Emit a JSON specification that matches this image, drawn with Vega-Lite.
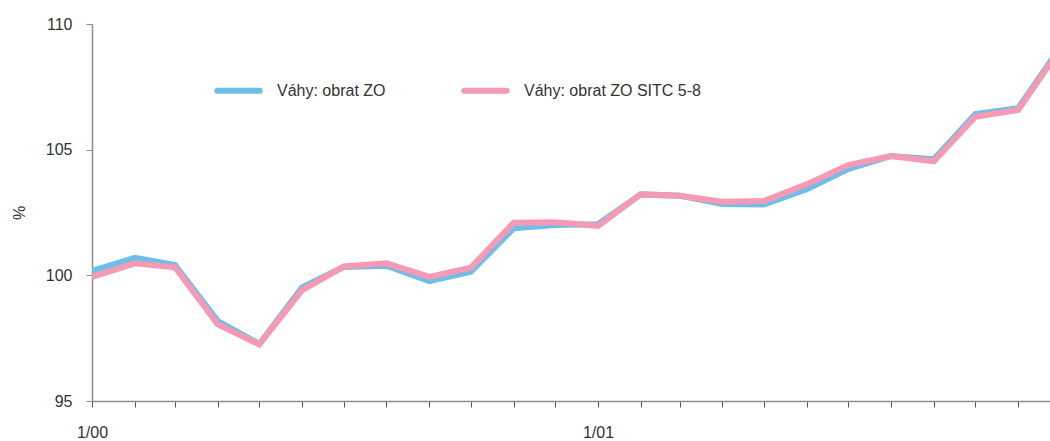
{
  "$schema": "https://vega.github.io/schema/vega-lite/v6.json",
  "width": 958,
  "height": 377,
  "autosize": {"type": "none"},
  "padding": {"left": 92, "top": 24, "right": 0, "bottom": 40},
  "background": "white",
  "config": {
    "view": {"stroke": null},
    "font": "Liberation Sans"
  },
  "data": {
    "values": [
      {"date": "2000-01-01", "series": "Váhy: obrat ZO", "value": 100.18},
      {"date": "2000-02-01", "series": "Váhy: obrat ZO", "value": 100.70},
      {"date": "2000-03-01", "series": "Váhy: obrat ZO", "value": 100.41},
      {"date": "2000-04-01", "series": "Váhy: obrat ZO", "value": 98.18},
      {"date": "2000-05-01", "series": "Váhy: obrat ZO", "value": 97.27},
      {"date": "2000-06-01", "series": "Váhy: obrat ZO", "value": 99.52},
      {"date": "2000-07-01", "series": "Váhy: obrat ZO", "value": 100.33},
      {"date": "2000-08-01", "series": "Váhy: obrat ZO", "value": 100.38},
      {"date": "2000-09-01", "series": "Váhy: obrat ZO", "value": 99.77},
      {"date": "2000-10-01", "series": "Váhy: obrat ZO", "value": 100.14},
      {"date": "2000-11-01", "series": "Váhy: obrat ZO", "value": 101.87},
      {"date": "2000-12-01", "series": "Váhy: obrat ZO", "value": 102.00},
      {"date": "2001-01-01", "series": "Váhy: obrat ZO", "value": 102.03},
      {"date": "2001-02-01", "series": "Váhy: obrat ZO", "value": 103.22},
      {"date": "2001-03-01", "series": "Váhy: obrat ZO", "value": 103.17},
      {"date": "2001-04-01", "series": "Váhy: obrat ZO", "value": 102.84},
      {"date": "2001-05-01", "series": "Váhy: obrat ZO", "value": 102.82},
      {"date": "2001-06-01", "series": "Váhy: obrat ZO", "value": 103.43},
      {"date": "2001-07-01", "series": "Váhy: obrat ZO", "value": 104.23},
      {"date": "2001-08-01", "series": "Váhy: obrat ZO", "value": 104.75},
      {"date": "2001-09-01", "series": "Váhy: obrat ZO", "value": 104.62},
      {"date": "2001-10-01", "series": "Váhy: obrat ZO", "value": 106.42},
      {"date": "2001-11-01", "series": "Váhy: obrat ZO", "value": 106.65},
      {"date": "2001-12-01", "series": "Váhy: obrat ZO", "value": 109.05},
      {"date": "2000-01-01", "series": "Váhy: obrat ZO SITC 5-8", "value": 99.94},
      {"date": "2000-02-01", "series": "Váhy: obrat ZO SITC 5-8", "value": 100.48},
      {"date": "2000-03-01", "series": "Váhy: obrat ZO SITC 5-8", "value": 100.32},
      {"date": "2000-04-01", "series": "Váhy: obrat ZO SITC 5-8", "value": 98.05},
      {"date": "2000-05-01", "series": "Váhy: obrat ZO SITC 5-8", "value": 97.25},
      {"date": "2000-06-01", "series": "Váhy: obrat ZO SITC 5-8", "value": 99.41},
      {"date": "2000-07-01", "series": "Váhy: obrat ZO SITC 5-8", "value": 100.35},
      {"date": "2000-08-01", "series": "Váhy: obrat ZO SITC 5-8", "value": 100.48},
      {"date": "2000-09-01", "series": "Váhy: obrat ZO SITC 5-8", "value": 99.94},
      {"date": "2000-10-01", "series": "Váhy: obrat ZO SITC 5-8", "value": 100.30},
      {"date": "2000-11-01", "series": "Váhy: obrat ZO SITC 5-8", "value": 102.09},
      {"date": "2000-12-01", "series": "Váhy: obrat ZO SITC 5-8", "value": 102.11},
      {"date": "2001-01-01", "series": "Váhy: obrat ZO SITC 5-8", "value": 101.97},
      {"date": "2001-02-01", "series": "Váhy: obrat ZO SITC 5-8", "value": 103.22},
      {"date": "2001-03-01", "series": "Váhy: obrat ZO SITC 5-8", "value": 103.17},
      {"date": "2001-04-01", "series": "Váhy: obrat ZO SITC 5-8", "value": 102.93},
      {"date": "2001-05-01", "series": "Váhy: obrat ZO SITC 5-8", "value": 102.96},
      {"date": "2001-06-01", "series": "Váhy: obrat ZO SITC 5-8", "value": 103.62},
      {"date": "2001-07-01", "series": "Váhy: obrat ZO SITC 5-8", "value": 104.39},
      {"date": "2001-08-01", "series": "Váhy: obrat ZO SITC 5-8", "value": 104.75},
      {"date": "2001-09-01", "series": "Váhy: obrat ZO SITC 5-8", "value": 104.54},
      {"date": "2001-10-01", "series": "Váhy: obrat ZO SITC 5-8", "value": 106.31},
      {"date": "2001-11-01", "series": "Váhy: obrat ZO SITC 5-8", "value": 106.58},
      {"date": "2001-12-01", "series": "Váhy: obrat ZO SITC 5-8", "value": 108.98}
    ]
  },
  "mark": {"type": "line", "strokeWidth": 6, "clip": true, "strokeJoin": "miter", "strokeCap": "butt"},
  "encoding": {
    "x": {
      "field": "date",
      "type": "temporal",
      "scale": {
        "type": "utc",
        "domain": [
          {"year": 2000, "month": 1, "date": 1, "utc": true},
          {"year": 2001, "month": 11, "date": 24, "utc": true}
        ]
      },
      "axis": {
        "title": null,
        "grid": false,
        "tickCount": {"interval": "month", "step": 1},
        "labelExpr": "utcmonth(datum.value) == 0 ? utcFormat(datum.value, '%-m/%y') : ''",
        "labelFontSize": 16,
        "labelColor": "#333333",
        "labelPadding": 17,
        "labelAlign": "center",
        "labelFlush": false,
        "labelOverlap": false,
        "domainColor": "#8c8c8c",
        "domainWidth": 1.5,
        "tickColor": "#555555",
        "tickSize": 6,
        "tickWidth": 1
      }
    },
    "y": {
      "field": "value",
      "type": "quantitative",
      "scale": {"domain": [95, 110], "nice": false, "zero": false},
      "axis": {
        "title": "%",
        "titleFontSize": 16,
        "titleFontWeight": "normal",
        "titleColor": "#333333",
        "titlePadding": 18,
        "values": [95, 100, 105, 110],
        "grid": false,
        "labelFontSize": 16,
        "labelColor": "#333333",
        "labelPadding": 14,
        "domainColor": "#8c8c8c",
        "domainWidth": 1.5,
        "tickColor": "#8c8c8c",
        "tickSize": 6,
        "tickWidth": 1
      }
    },
    "color": {
      "field": "series",
      "type": "nominal",
      "scale": {
        "domain": ["Váhy: obrat ZO", "Váhy: obrat ZO SITC 5-8"],
        "range": ["#6ebeea", "#f49ab4"]
      },
      "legend": {
        "title": null,
        "orient": "none",
        "direction": "horizontal",
        "legendX": 122,
        "legendY": 42,
        "padding": 0,
        "symbolType": "stroke",
        "symbolSize": 1800,
        "symbolStrokeWidth": 6,
        "labelFontSize": 16,
        "labelColor": "#333333",
        "labelOffset": 14,
        "columnPadding": 66,
        "labelLimit": 300,
        "encode": {"symbols": {"update": {"strokeCap": {"value": "round"}}}}
      }
    }
  }
}
